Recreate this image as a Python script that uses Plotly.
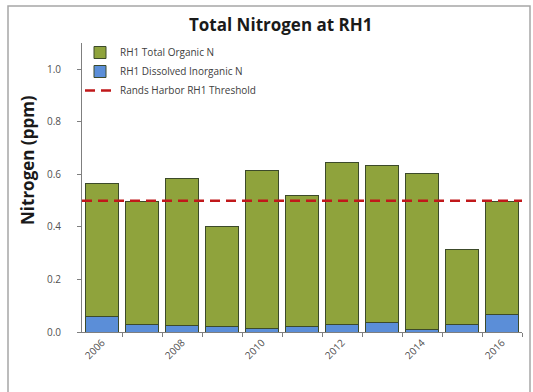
import plotly.graph_objects as go

# Annual nitrogen measurements at station RH1 (ppm)
years = [2006, 2007, 2008, 2009, 2010, 2011, 2012, 2013, 2014, 2015, 2016]
inorganic_n = [0.058, 0.030, 0.025, 0.020, 0.012, 0.022, 0.028, 0.035, 0.010, 0.028, 0.068]
organic_n = [0.507, 0.465, 0.560, 0.382, 0.603, 0.498, 0.617, 0.597, 0.595, 0.287, 0.427]
threshold = 0.5
tick_years = [2006, 2008, 2010, 2012, 2014, 2016]
y_ticks = [0, 0.2, 0.4, 0.6, 0.8, 1.0]
y_range = [0, 1.1]

GREEN = "#8fa33c"
BLUE = "#5b8ed8"
RED = "#c0181a"
OUTLINE = "#3c4a2a"

fig = go.Figure()

fig.add_trace(go.Bar(
    x=years, y=inorganic_n, name="RH1 Dissolved Inorganic N",
    marker=dict(color=BLUE, line=dict(color=OUTLINE, width=1)),
    width=0.83, legendrank=2,
))
fig.add_trace(go.Bar(
    x=years, y=organic_n, name="RH1 Total Organic N",
    marker=dict(color=GREEN, line=dict(color=OUTLINE, width=1)),
    width=0.83, legendrank=1,
))
# threshold sits on the label-only axis (same scale as the bars' axis)
fig.add_trace(go.Scatter(
    x=[years[0] - 0.5, years[-1] + 0.5], y=[threshold, threshold],
    mode="lines", name="Rands Harbor RH1 Threshold",
    line=dict(color=RED, width=2.5, dash="10px,6px"),
    legendrank=3, yaxis="y2",
))

# Page 533x392; bars' x-axis spans 82..522 px, y from 43 to 332 px.
# Tick labels live on a second axis drawn further left at x=61.
L, R, T, B = 61, 11, 43, 60
W, H = 533, 392
pw, ph = W - L - R, H - T - B
X0 = 82

def px(x):
    return (x - L) / pw

def py(y):
    return (H - B - y) / ph

fig.update_layout(
    width=W, height=H,
    margin=dict(l=L, r=R, t=T, b=B),
    paper_bgcolor="white", plot_bgcolor="rgba(0,0,0,0)",
    barmode="stack", bargap=0.17,
    font=dict(family="Open Sans, Liberation Sans, sans-serif", color="#505050", size=10),
    showlegend=True,
    legend=dict(
        x=px(80), y=py(38), xanchor="left", yanchor="top",
        traceorder="normal", bgcolor="rgba(0,0,0,0)",
        font=dict(size=10, color="#404040"), tracegroupgap=0,
        itemwidth=30,
    ),
    xaxis=dict(
        domain=[px(X0), 1],
        range=[years[0] - 0.5, years[-1] + 0.5],
        tickvals=tick_years, ticktext=[str(y) for y in tick_years],
        tickangle=-45, ticks="", showgrid=False, zeroline=False,
        showline=True, linecolor="#7f7f7f", linewidth=1,
        tickfont=dict(size=10, color="#505050"),
        minor=dict(tickvals=[y + 0.5 for y in years],
                   ticks="outside", ticklen=4, tickcolor="#7f7f7f", showgrid=False),
    ),
    yaxis=dict(
        range=y_range, tickvals=y_ticks, anchor="x",
        ticks="outside", ticklen=4, tickcolor="#7f7f7f",
        showticklabels=False,
        showgrid=False, zeroline=False,
        showline=True, linecolor="#7f7f7f", linewidth=1,
    ),
    yaxis2=dict(
        range=y_range, tickvals=y_ticks, tickformat=".1f",
        overlaying="y", anchor="free", position=0, side="left",
        ticks="", showline=False, showgrid=False, zeroline=False,
        tickfont=dict(size=10, color="#505050"),
    ),
    annotations=[
        dict(text="<b>Total Nitrogen at RH1</b>", xref="paper", yref="paper",
             x=px(281), y=py(25), xanchor="center", yanchor="middle", showarrow=False,
             font=dict(size=17, color="#1a1a1a", family="Open Sans, sans-serif")),
        dict(text="<b>Nitrogen (ppm)</b>", xref="paper", yref="paper",
             x=px(27), y=py(160), xanchor="center", yanchor="middle",
             showarrow=False, textangle=-90,
             font=dict(size=17, color="#1a1a1a", family="Open Sans, sans-serif")),
    ],
    shapes=[
        dict(type="rect", xref="paper", yref="paper",
             x0=px(8), x1=px(530), y0=py(398), y1=py(6),
             line=dict(color="#a6a6a6", width=1.5), layer="below"),
    ],
)

fig.write_html("out.html")
